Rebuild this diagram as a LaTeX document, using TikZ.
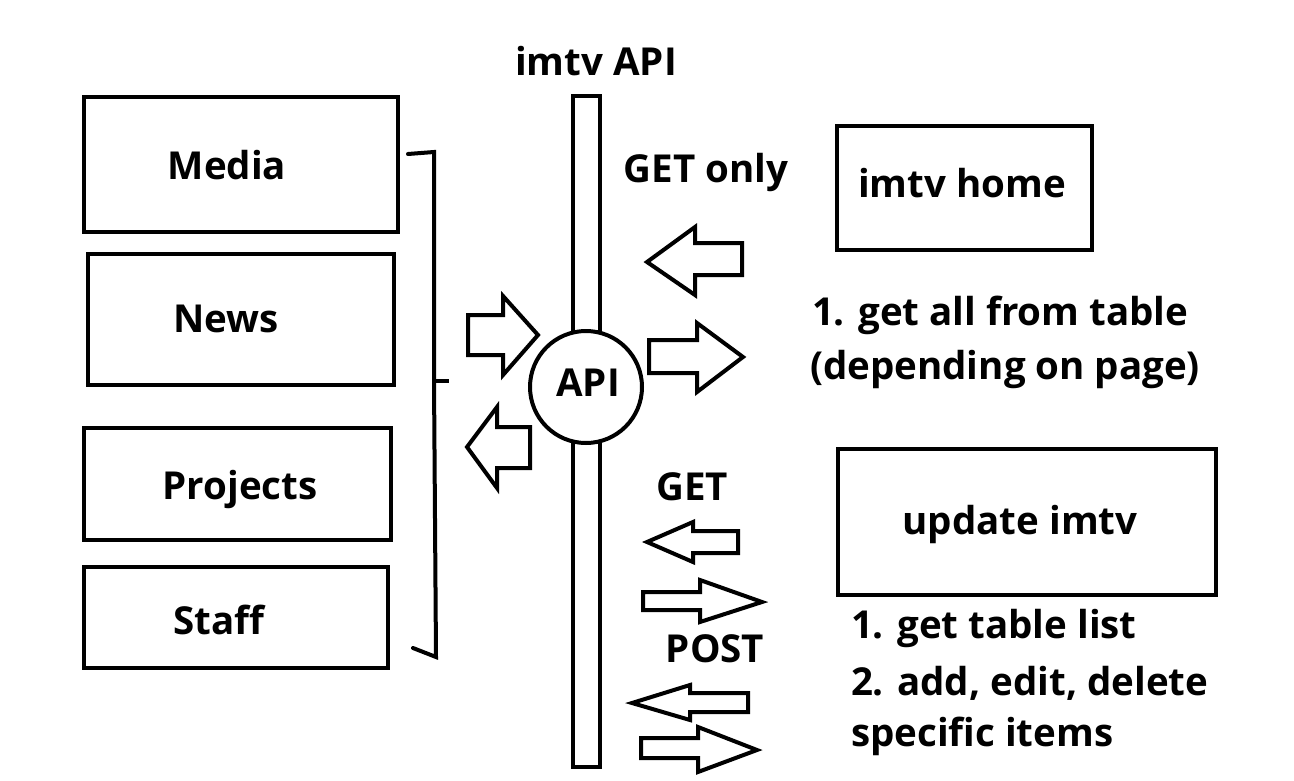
\documentclass[tikz,border=0pt]{standalone}
\usepackage{fontspec}
\setmainfont{Open Sans}
\begin{document}
\begin{tikzpicture}[x=1pt,y=-1pt,line width=4pt,line join=miter,
  box/.style={draw,rectangle,inner sep=0pt},
  lbl/.style={font=\fontsize{38.5}{38.5}\selectfont\bfseries,inner sep=0pt},
  blk/.style={draw,line width=4pt,fill=white}]
\useasboundingbox (0,0) rectangle (1294,780);
% left boxes
\node[box,minimum width=314pt,minimum height=135pt] (media) at (241,164.5) {};
\node[box,minimum width=306pt,minimum height=131pt] (news) at (241,319.5) {};
\node[box,minimum width=307pt,minimum height=112pt] (proj) at (237.5,484) {};
\node[box,minimum width=304pt,minimum height=101pt] (staff) at (236,617.5) {};
\node[lbl] (tmedia) at (227,165) {Media};
\node[lbl] (tnews) at (226,319) {News};
\node[lbl] (tproj) at (240,489) {Projects};
\node[lbl] (tstaff) at (219,620) {Staff};
% bracket
\coordinate (b1) at (408,154);
\coordinate (b2) at (434,152);
\coordinate (b3) at (434,381);
\coordinate (b4) at (449,381);
\coordinate (b5) at (436,657);
\coordinate (b6) at (413,648);
\draw[line cap=round] (b1) -- (b2) -- (b3) -- (b5) -- (b6);
\draw (b3) -- (b4);
% API pillar
\draw (573,96) rectangle (600,767);
\node[draw,circle,fill=white,minimum size=112pt,inner sep=0pt] (api) at (586,387) {};
\node[lbl] (tapi) at (588,383) {API};
\node[lbl] (title) at (596,61) {imtv API};
% right boxes
\node[box,minimum width=255pt,minimum height=124pt] (home) at (964.5,188) {};
\node[lbl] (thome) at (962,183) {imtv home};
\node[box,minimum width=378pt,minimum height=146pt] (upd) at (1027,522) {};
\node[lbl] (tupd) at (1020,524) {update imtv};
% texts
\node[lbl] (getonly) at (706,172) {GET only};
\node[lbl,anchor=west] (l1) at (810,315) {1. get all from table};
\node[lbl,anchor=west] (l2) at (808,369) {(depending on page)};
\node[lbl] (get) at (692,487) {GET};
\node[lbl] (post) at (715,649) {POST};
\node[lbl,anchor=west] (u1) at (849,628) {1. get table list};
\node[lbl,anchor=west] (u2) at (849,683) {2. add, edit, delete};
\node[lbl,anchor=west] (u3) at (849,736) {specific items};
% block arrows
% right arrow left of circle
\draw[blk] (468,315) -- (503,315) -- (503,296) -- (538,335) -- (503,375) -- (503,355) -- (468,355) -- cycle;
% left arrow below
\draw[blk] (467,447) -- (497,407) -- (497,427) -- (530,427) -- (530,468) -- (497,468) -- (497,488) -- cycle;
% right arrow right of circle
\draw[blk] (649,340) -- (697,340) -- (697,323) -- (743,357) -- (697,392) -- (697,373) -- (649,373) -- cycle;
% GET only left arrow
\draw[blk] (647,262) -- (695,227) -- (695,243) -- (742,243) -- (742,275) -- (695,275) -- (695,295) -- cycle;
% GET left
\draw[blk] (647,542) -- (693,522) -- (693,531) -- (738,531) -- (738,553) -- (693,553) -- (693,562) -- cycle;
% GET right
\draw[blk] (643,592) -- (700,592) -- (700,580) -- (762,602) -- (700,622) -- (700,610) -- (643,610) -- cycle;
% POST left
\draw[blk] (632,703) -- (690,685) -- (690,693) -- (748,693) -- (748,712) -- (690,712) -- (690,720) -- cycle;
% POST right
\draw[blk] (641,738) -- (698,738) -- (698,727) -- (757,750) -- (698,772) -- (698,758) -- (641,758) -- cycle;
\end{tikzpicture}
\end{document}
